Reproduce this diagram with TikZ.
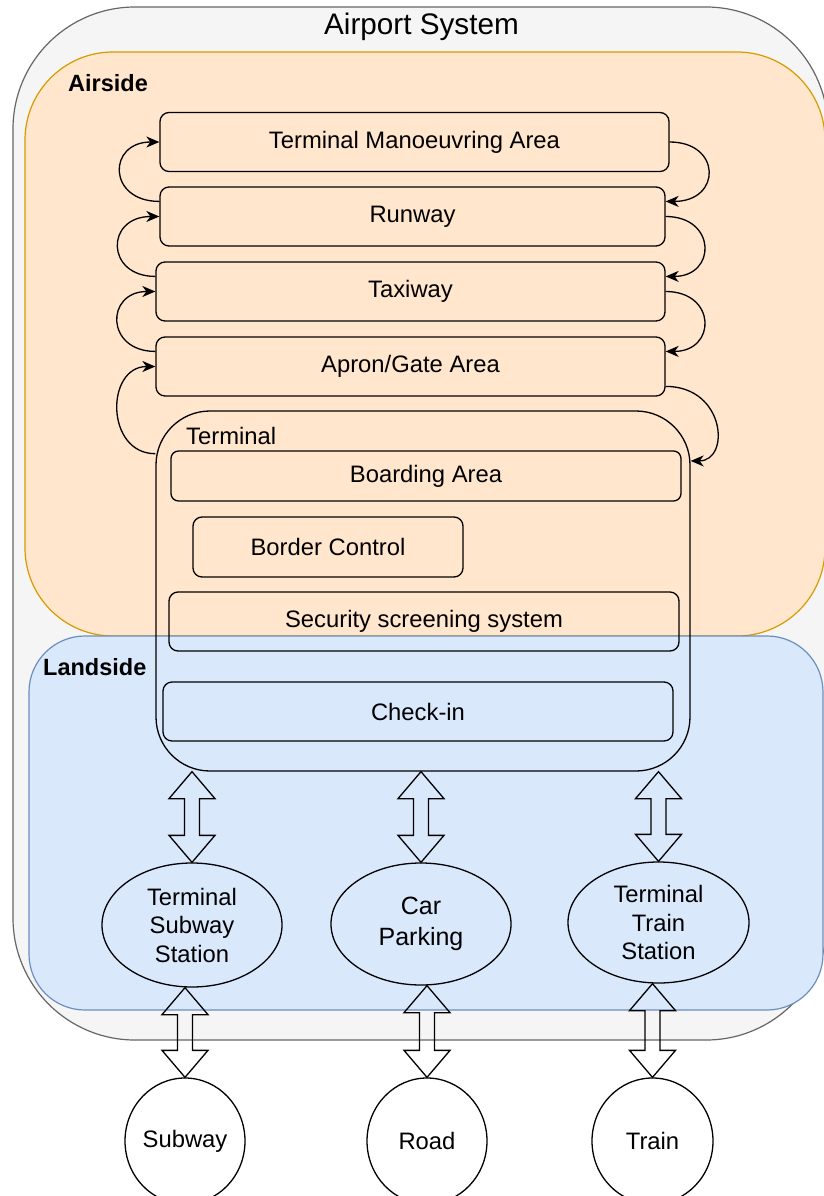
\documentclass[tikz,border=0pt]{standalone}
\usepackage{fontspec}
\setmainfont{Liberation Sans}
\usepackage[HTML]{xcolor}
\usepackage{tikz}
\usetikzlibrary{positioning, calc, arrows.meta, shapes.geometric}

\definecolor{outerfill}{HTML}{F5F5F5}
\definecolor{outerline}{HTML}{666666}
\definecolor{airfill}{HTML}{FFE6CC}
\definecolor{airline}{HTML}{D79B00}
\definecolor{landfill}{HTML}{DAE8FC}
\definecolor{landline}{HTML}{6C8EBF}

\begin{document}
\begin{tikzpicture}[x=1pt, y=-1pt,
  txt/.style={font=\fontsize{23.8}{28.5}\selectfont, align=center, inner sep=0pt},
  blk/.style={txt, draw, line width=1.3pt, rounded corners=9pt, minimum height=59pt},
  station/.style={txt, draw, ellipse, line width=1.3pt},
  curvy/.style={line width=1.3pt, -{Stealth[length=13pt, width=11pt, inset=4pt]}},
  dblarrow/.style={line width=1.3pt, to path={let \p1=(\tikztostart), \p2=(\tikztotarget) in
    (\p1) -- (\x1+23pt,\y1-27pt) -- (\x1+7.5pt,\y1-27pt) -- (\x1+7.5pt,\y2+27pt) -- (\x1+23pt,\y2+27pt)
    -- (\x1,\y2) -- (\x1-23pt,\y2+27pt) -- (\x1-7.5pt,\y2+27pt) -- (\x1-7.5pt,\y1-27pt) -- (\x1-23pt,\y1-27pt) -- cycle}}]
\useasboundingbox (0,0) rectangle (824,1196);

\draw[fill=outerfill, draw=outerline, line width=1.2pt, rounded corners=122pt] (13,7) rectangle (828,1040);
\draw[fill=airfill, draw=airline, line width=1.2pt, rounded corners=88pt] (25,52) rectangle (825,636);
\draw[fill=landfill, draw=landline, line width=1.2pt, rounded corners=56pt] (29,636) rectangle (823,1010);

\node[inner sep=0pt, font=\fontsize{29.7}{34}\selectfont] (title) at (421.5,27) {Airport System};
\node[txt, anchor=west, font=\fontsize{23.5}{28}\selectfont\bfseries] (airlbl) at (68,83) {Airside};
\node[txt, anchor=west, font=\fontsize{23.5}{28}\selectfont\bfseries] (landlbl) at (43,667) {Landside};

\node[blk, minimum width=509pt] (tma) at (414.5,142) {Terminal Manoeuvring Area};
\node[blk, minimum width=505pt] (rwy) at (412.5,216.5) {Runway};
\node[blk, minimum width=509pt] (twy) at (410.5,291.5) {Taxiway};
\node[blk, minimum width=509pt] (apron) at (410.5,366.5) {Apron/Gate Area};

\node[blk, minimum width=534pt, minimum height=360pt, rounded corners=54pt] (term) at (423,591) {};
\node[txt, anchor=west] (termlbl) at (186,436) {Terminal};
\node[blk, minimum width=510pt, minimum height=50pt, rounded corners=7.5pt] (board) at (426,476) {Boarding Area};
\node[blk, minimum width=270pt, minimum height=60pt] (border) at (328,547) {Border Control};
\node[blk, minimum width=510pt] (sec) at (424,621.5) {Security screening system};
\node[blk, minimum width=510pt] (chk) at (418,711.5) {Check-in};

\node[station, minimum width=180pt, minimum height=124pt] (tss) at (192,925) {Terminal\\Subway\\Station};
\node[station, minimum width=180pt, minimum height=122pt, font=\fontsize{25}{30.5}\selectfont] (car) at (421,924) {Car\\Parking};
\node[station, minimum width=181pt, minimum height=121pt] (tts) at (658.5,922.5) {Terminal\\Train\\Station};

\node[station, minimum width=120pt, minimum height=126pt] (sub) at (185,1141) {Subway};
\node[station, minimum width=120pt, minimum height=126pt] (road) at (427,1141) {Road};
\node[station, minimum width=121pt, minimum height=126pt] (train) at (652.5,1141) {Train};

\draw[curvy] ($(rwy.north west)!0.25!(rwy.south west)$) .. controls +(-52,0) and +(-52,0) .. (tma.west);
\draw[curvy] ($(twy.north west)!0.25!(twy.south west)$) .. controls +(-50,0) and +(-54,0) .. (rwy.west);
\draw[curvy] ($(apron.north west)!0.25!(apron.south west)$) .. controls +(-50,0) and +(-50,0) .. (twy.west);
\draw[curvy] ($(term.north west)!0.12!(term.south west)$) .. controls +(-50,0) and +(-50,0) .. (apron.west);

\draw[curvy] (tma.east) .. controls +(52,0) and +(56,0) .. ($(rwy.north east)!0.25!(rwy.south east)$);
\draw[curvy] (rwy.east) .. controls +(51,0) and +(51,0) .. ($(twy.north east)!0.25!(twy.south east)$);
\draw[curvy] (twy.east) .. controls +(51,0) and +(51,0) .. ($(apron.north east)!0.25!(apron.south east)$);
\draw[curvy] ($(apron.north east)!0.83!(apron.south east)$) .. controls +(60,0) and +(40,0) .. ($(term.north east)!0.14!(term.south east)$);

\draw[dblarrow] (term.south -| tss.north) to (tss.north);
\draw[dblarrow] (term.south -| car.north) to (car.north);
\draw[dblarrow] (term.south -| tts.north) to (tts.north);
\draw[dblarrow] (tss.south -| sub.north) to (sub.north);
\draw[dblarrow] (car.south -| road.north) to (road.north);
\draw[dblarrow] (tts.south -| train.north) to (train.north);
\end{tikzpicture}
\end{document}
